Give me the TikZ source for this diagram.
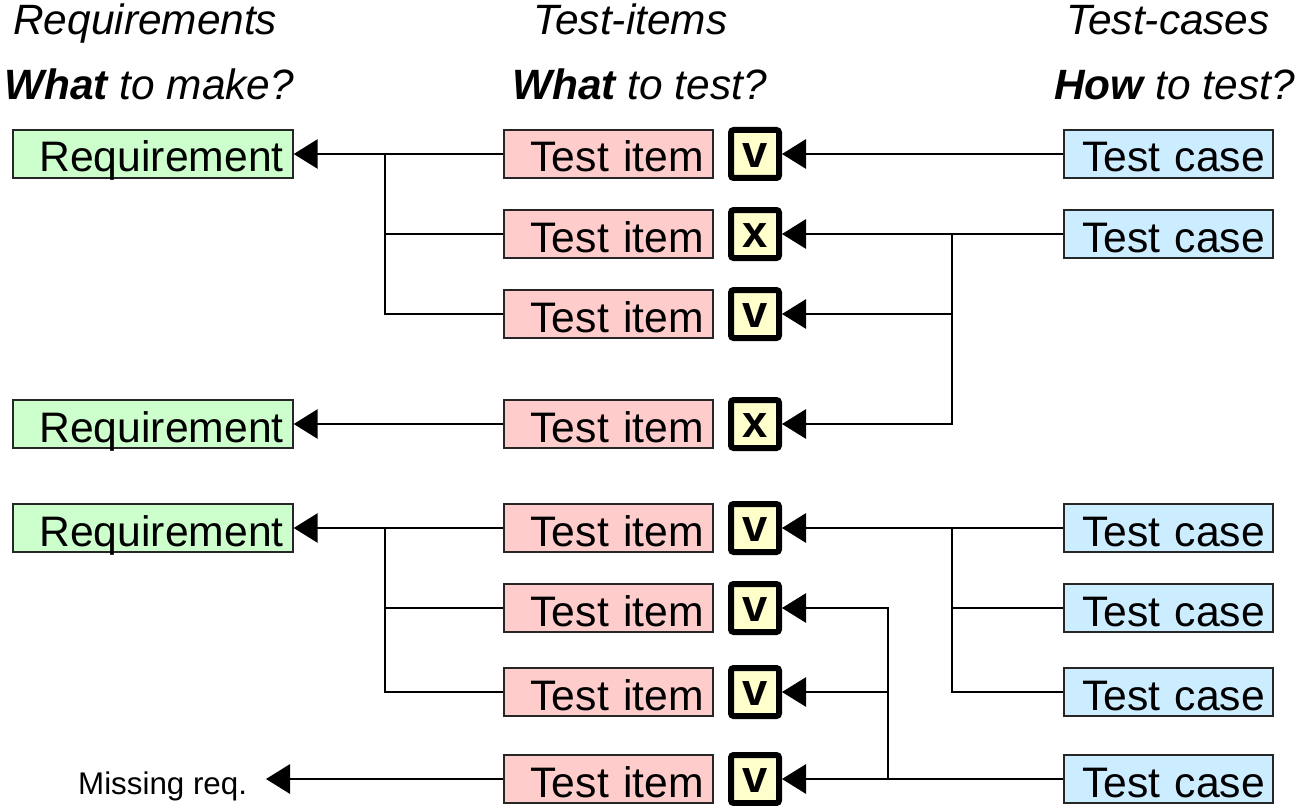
\documentclass[tikz,border=0pt]{standalone}
\usepackage{fontspec}
\setmainfont{Liberation Sans}
\usetikzlibrary{arrows.meta}
\definecolor{reqgreen}{HTML}{CCFFCC}
\definecolor{itempink}{HTML}{FFCCCC}
\definecolor{caseblue}{HTML}{CCECFF}
\definecolor{checkyellow}{HTML}{FFFFCC}
\tikzset{
  boxbase/.style={draw=black!85, line width=1.1pt, minimum height=36pt,
    inner xsep=7pt, inner ysep=0pt, text height=27pt, text depth=0pt,
    align=right, font=\fontsize{32}{36}\selectfont},
  reqbox/.style={boxbase, fill=reqgreen, text width=196pt},
  itembox/.style={boxbase, fill=itempink, text width=142.75pt},
  casebox/.style={boxbase, fill=caseblue, text width=144.75pt, inner xsep=6pt},
  checkbox/.style={draw=black, fill=checkyellow, line width=4.5pt, rounded corners=2pt,
    minimum size=36pt, inner sep=0pt, text height=20pt, text depth=0pt,
    font=\fontsize{34}{36}\selectfont\bfseries},
  header/.style={anchor=base west, inner sep=0pt, font=\fontsize{31.8}{36}\selectfont\itshape},
  arr/.style={line width=1.5pt, -{Triangle[length=18pt,width=22pt]}},
  br/.style={line width=1.1pt},
}
\begin{document}
\begin{tikzpicture}[x=0.75pt, y=-0.75pt]
\useasboundingbox (0,0) rectangle (1299,806);
% headers
\node[header] (h1) at (13,35) {Requirements};
\node[header] (h2) at (4,100) {\textbf{What} to make?};
\node[header] (h3) at (533,35) {Test-items};
\node[header] (h4) at (512,100) {\textbf{What} to test?};
\node[header] (h5) at (1066,35) {Test-cases};
\node[header] (h6) at (1054,100) {\textbf{How} to test?};
% requirements
\node[reqbox] (req1) at (153,154) {Requirement};
\node[reqbox] (req2) at (153,424) {Requirement};
\node[reqbox] (req3) at (153,528) {Requirement};
\node[anchor=east, inner xsep=14pt, inner ysep=0pt, text height=22.5pt, text depth=0pt,
  font=\fontsize{23.5}{26}\selectfont] (miss) at (266,779) {Missing req.};
% test items
\node[itembox] (ti1) at (608.5,154) {Test item};
\node[itembox] (ti2) at (608.5,234) {Test item};
\node[itembox] (ti3) at (608.5,314) {Test item};
\node[itembox] (ti4) at (608.5,424) {Test item};
\node[itembox] (ti5) at (608.5,528) {Test item};
\node[itembox] (ti6) at (608.5,608) {Test item};
\node[itembox] (ti7) at (608.5,692) {Test item};
\node[itembox] (ti8) at (608.5,779) {Test item};
% checks
\node[checkbox] (ck1) at (755,154) {v};
\node[checkbox] (ck2) at (755,234) {x};
\node[checkbox] (ck3) at (755,314) {v};
\node[checkbox] (ck4) at (755,424) {x};
\node[checkbox] (ck5) at (755,528) {v};
\node[checkbox] (ck6) at (755,608) {v};
\node[checkbox] (ck7) at (755,692) {v};
\node[checkbox] (ck8) at (755,779) {v};
% test cases
\node[casebox] (tc1) at (1168.5,154) {Test case};
\node[casebox] (tc2) at (1168.5,234) {Test case};
\node[casebox] (tc5) at (1168.5,528) {Test case};
\node[casebox] (tc6) at (1168.5,608) {Test case};
\node[casebox] (tc7) at (1168.5,692) {Test case};
\node[casebox] (tc8) at (1168.5,779) {Test case};
% junctions
\coordinate (jl1) at (385,154);
\coordinate (jl2) at (385,528);
\coordinate (jr1) at (952,234);
\coordinate (jr2) at (952,528);
\coordinate (jr3) at (888,779);
% left connectors
\draw[arr] (ti1.west) -- (req1.east);
\draw[br] (jl1) |- (ti3.west);
\draw[br] (jl1 |- ti2.west) -- (ti2.west);
\draw[arr] (ti4.west) -- (req2.east);
\draw[arr] (ti5.west) -- (req3.east);
\draw[br] (jl2) |- (ti7.west);
\draw[br] (jl2 |- ti6.west) -- (ti6.west);
\draw[arr] (ti8.west) -- (miss.east);
% right connectors
\draw[arr] (tc1.west) -- (ck1.east);
\draw[arr] (tc2.west) -- (ck2.east);
\draw[arr, line width=1.1pt] (jr1) |- (ck4.east);
\draw[arr, line width=1.1pt] (jr1 |- ck3.east) -- (ck3.east);
\draw[arr] (tc5.west) -- (ck5.east);
\draw[br] (jr2) |- (tc7.west);
\draw[br] (jr2 |- tc6.west) -- (tc6.west);
\draw[arr] (tc8.west) -- (ck8.east);
\draw[arr, line width=1.1pt] (jr3) |- (ck6.east);
\draw[arr, line width=1.1pt] (jr3 |- ck7.east) -- (ck7.east);
\end{tikzpicture}
\end{document}
